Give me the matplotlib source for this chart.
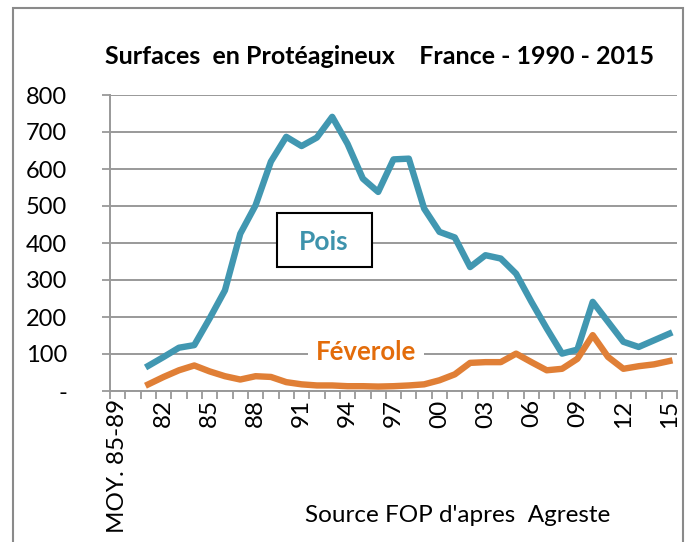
import numpy as np
import matplotlib.pyplot as plt
from matplotlib.patches import Rectangle

plt.rcParams["font.family"] = ["Lato", "DejaVu Sans"]

# categories: average 85-89, then years 1980 .. 2015
categories = ["MOY. 85-89"] + [f"{y % 100:02d}" for y in range(1980, 2016)]

# thousand ha (no data for the first two categories)
pois = [np.nan, np.nan,
        68, 92, 117, 124, 196, 272, 425, 502, 620, 687,
        662, 685, 741, 668, 574, 538, 626, 628, 493, 430,
        415, 335, 367, 358, 317, 241, 169, 101, 112, 241,
        187, 133, 119, 137, 155]
feverole = [np.nan, np.nan,
            18, 38, 56, 69, 53, 40, 31, 40, 38, 24,
            18, 15, 15, 13, 13, 12, 13, 15, 18, 29,
            45, 76, 78, 78, 101, 78, 56, 60, 87, 151,
            92, 60, 67, 72, 81]

yticks = [0, 100, 200, 300, 400, 500, 600, 700, 800]
ytick_labels = ["-", "100", "200", "300", "400", "500", "600", "700", "800"]

W, H = 687, 542
fig = plt.figure(figsize=(W / 100, H / 100), dpi=100)

def fx(px):
    return px / W

def fy(py):
    return 1 - py / H

ax = fig.add_axes([fx(110), fy(391), fx(677) - fx(110), fy(95) - fy(391)])

x = np.arange(len(categories))
ax.plot(x, pois, color="#4197B1", lw=4.6, solid_joinstyle="round", zorder=3)
ax.plot(x, feverole, color="#E07F36", lw=4.6, solid_joinstyle="round", zorder=3)

ax.set_xlim(-0.5, len(categories) - 0.5)
ax.set_ylim(0, 800)

ax.set_yticks(yticks)
ax.set_yticklabels(ytick_labels, fontsize=17)
ax.tick_params(axis="y", direction="out", length=6, width=1.3, color="#999999", pad=25)
ax.yaxis.grid(True, color="#999999", lw=1.4)
ax.set_axisbelow(True)

lab_idx = list(range(0, len(categories), 3))
ax.set_xticks(lab_idx)
ax.set_xticklabels([categories[i] for i in lab_idx], rotation=90, fontsize=17.5, va="top")
ax.tick_params(axis="x", length=0, pad=6)
ax.set_xticks(np.arange(-0.5, len(categories)), minor=True)
ax.tick_params(axis="x", which="minor", direction="out", length=6, width=1.3, color="#999999")

for s in ["top", "right"]:
    ax.spines[s].set_visible(False)
for s in ["left", "bottom"]:
    ax.spines[s].set_color("#999999")
    ax.spines[s].set_linewidth(1.4)

# labels inside the plot
fig.patches.append(Rectangle((fx(277), fy(267)), fx(372) - fx(277), fy(213) - fy(267),
                             transform=fig.transFigure, fc="white", ec="black",
                             lw=1.5, zorder=4))
fig.text(fx(324), fy(242), "Pois", color="#3E93AC", fontsize=19, fontweight="bold",
         ha="center", va="center", zorder=5)
fig.text(fx(366), fy(352), "Féverole", color="#E36C0A", fontsize=18.5, fontweight="bold",
         ha="center", va="center",
         bbox=dict(boxstyle="square,pad=0.3", fc="white", ec="none"))

fig.text(fx(380), fy(57), "Surfaces  en Protéagineux    France - 1990 - 2015",
         fontsize=18, fontweight="bold", ha="center", va="center")
fig.text(fx(458), fy(515), "Source FOP d'apres  Agreste", fontsize=17.5,
         ha="center", va="center")

# outer chart border
fig.patches.append(Rectangle((fx(13), fy(560)), fx(683) - fx(13), fy(8) - fy(560),
                             transform=fig.transFigure, fill=False,
                             ec="#8a8a8a", lw=1.5))

fig.savefig("out.png", dpi=100)
